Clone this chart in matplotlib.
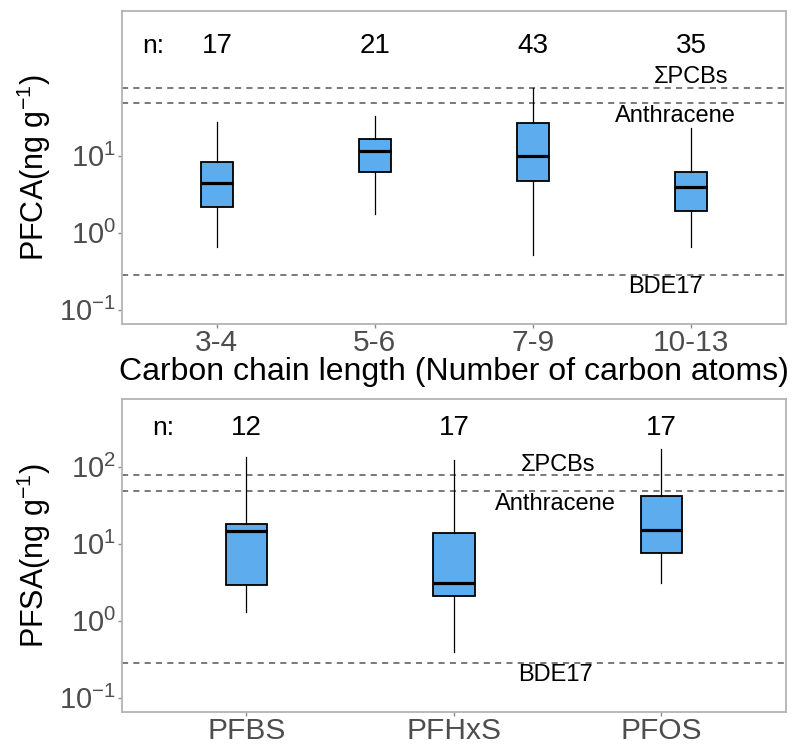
import numpy as np
import matplotlib
matplotlib.use("Agg")
import matplotlib.pyplot as plt
from matplotlib.ticker import FixedLocator, NullLocator, LogFormatterSciNotation

plt.rcParams['font.family'] = ['Liberation Sans', 'DejaVu Sans']
plt.rcParams['mathtext.fontset'] = 'custom'
plt.rcParams['mathtext.rm'] = 'Liberation Sans'
plt.rcParams['mathtext.it'] = 'Liberation Sans'
plt.rcParams['mathtext.default'] = 'regular'
plt.rcParams['axes.unicode_minus'] = False

# PFCA by carbon chain length (ng/g)
pfca_groups = ['3-4', '5-6', '7-9', '10-13']
pfca_n = [17, 21, 43, 35]
pfca_low = [0.66, 1.75, 0.51, 0.66]
pfca_q1 = [2.13, 6.1, 4.64, 1.92]
pfca_med = [4.46, 11.4, 9.9, 3.95]
pfca_q3 = [8.2, 16.5, 26.6, 6.07]
pfca_high = [27.8, 32.4, 77.0, 22.9]
pfca_ticks = [0.1, 1, 10]

# PFSA compounds (ng/g)
pfsa_groups = ['PFBS', 'PFHxS', 'PFOS']
pfsa_n = [12, 17, 17]
pfsa_low = [1.31, 0.395, 3.12]
pfsa_q1 = [2.9, 2.07, 7.56]
pfsa_med = [14.6, 3.08, 15.0]
pfsa_q3 = [18.2, 13.6, 42.0]
pfsa_high = [132, 122, 168]
pfsa_ticks = [0.1, 1, 10, 100]

# reference levels
ref_names = ['ΣPCBs', 'Anthracene', 'BDE17']
ref_values = [77, 48, 0.28]
ref_label_y = [105, 33, 0.195]

box_color = '#5CACEE'
grey_txt = '#4D4D4D'
ylims = (10 ** -1.185, 10 ** 2.88)


def draw_panel(ax, groups, n, low, q1, med, q3, high, ticks, ylabel, n_y, ref_x):
    stats = []
    for i in range(len(groups)):
        stats.append(dict(whislo=low[i], q1=q1[i], med=med[i], q3=q3[i],
                          whishi=high[i], fliers=[], label=groups[i]))
    pos = np.arange(1, len(groups) + 1)
    ax.bxp(stats, positions=pos, widths=0.2, patch_artist=True, showcaps=False,
           boxprops=dict(facecolor=box_color, edgecolor='black', linewidth=1.3),
           medianprops=dict(color='black', linewidth=2.3),
           whiskerprops=dict(color='black', linewidth=0.9))
    for val, name, ly, rx in zip(ref_values, ref_names, ref_label_y, ref_x):
        ax.axhline(val, color='#555555', linestyle=(0, (4.0, 3.4)), linewidth=1.1, zorder=0)
        ax.text(rx, ly, name, ha='center', va='center', fontsize=17, color='black')
    ax.text(0.6, n_y, 'n:', ha='center', va='center', fontsize=19)
    for p, c in zip(pos, n):
        ax.text(p, n_y, str(c), ha='center', va='center', fontsize=20)

    ax.set_yscale('log')
    ax.set_ylim(*ylims)
    ax.set_xlim(0.4, len(groups) + 0.6)
    ax.yaxis.set_major_locator(FixedLocator(ticks))
    ax.yaxis.set_minor_locator(NullLocator())
    ax.yaxis.set_major_formatter(LogFormatterSciNotation())
    ax.set_xticks(pos)
    ax.set_xticklabels(groups)
    ax.tick_params(axis='both', colors='#8C8C8C', labelcolor=grey_txt, length=3,
                   width=1.0, pad=1.5)
    ax.tick_params(axis='y', labelsize=21)
    ax.tick_params(axis='x', labelsize=21.5, pad=0.5)
    for s in ax.spines.values():
        s.set_color('#B3B3B3')
        s.set_linewidth(1.3)
    ax.set_ylabel(ylabel, fontsize=22, labelpad=4)


fig = plt.figure(figsize=(7.95, 7.5), dpi=100)
ax1 = fig.add_axes([0.1535, 0.568, 0.835, 0.4173])
ax2 = fig.add_axes([0.1535, 0.0507, 0.835, 0.4173])

draw_panel(ax1, pfca_groups, pfca_n, pfca_low, pfca_q1, pfca_med, pfca_q3, pfca_high,
           pfca_ticks, 'PFCA(ng g$^{-1}$)', 265, [4.0, 3.9, 3.84])
ax1.set_xlabel('Carbon chain length (Number of carbon atoms)', fontsize=23, labelpad=0)

draw_panel(ax2, pfsa_groups, pfsa_n, pfsa_low, pfsa_q1, pfsa_med, pfsa_q3, pfsa_high,
           pfsa_ticks, 'PFSA(ng g$^{-1}$)', 315, [2.5, 2.49, 2.49])

fig.savefig('out.png', dpi=100)
